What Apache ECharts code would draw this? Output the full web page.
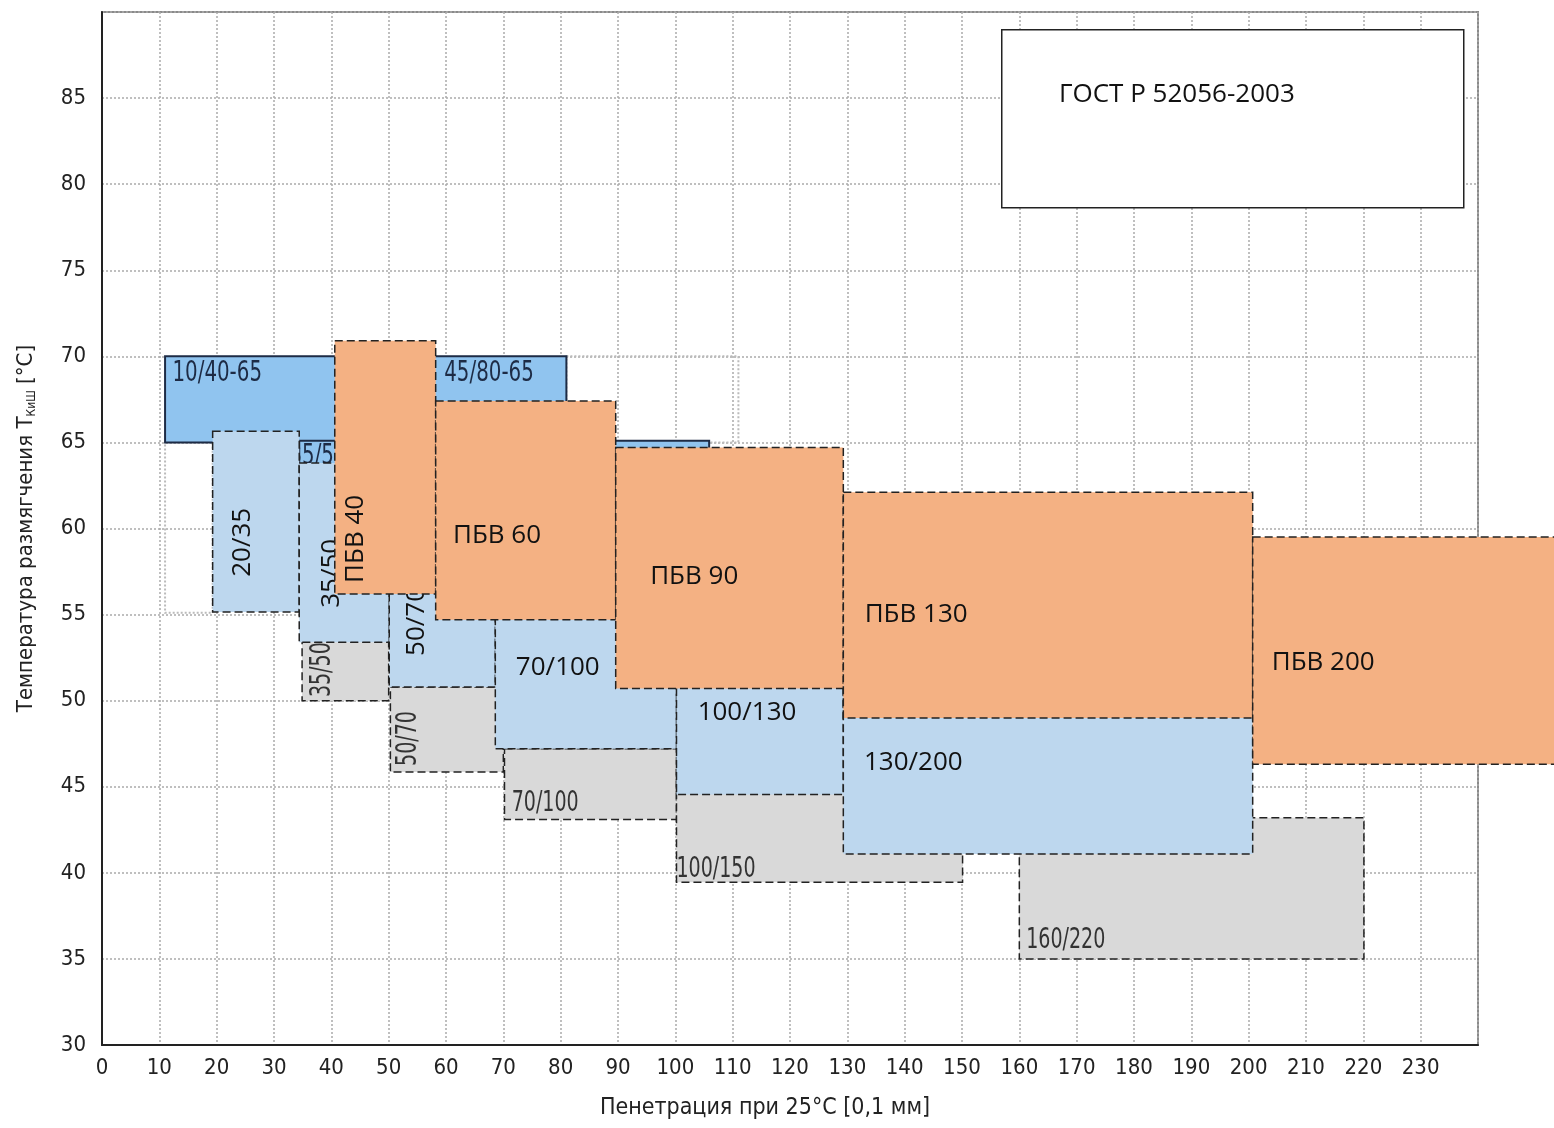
<!DOCTYPE html>
<html>
<head>
<meta charset="utf-8">
<script src="https://cdn.jsdelivr.net/npm/echarts@6/dist/echarts.min.js"></script>
<style>
  html, body { margin: 0; padding: 0; background: #fff; }
  #chart { width: 1554px; height: 1128px; }
</style>
</head>
<body>
<div id="chart"></div>
<script>
// пенетрация [0,1 мм] по x, температура размягчения [°C] по y

// ПБВ (ГОСТ Р 52056-2003)
const pbvNames = ['ПБВ 40', 'ПБВ 60', 'ПБВ 90', 'ПБВ 130', 'ПБВ 200'];
const pbvX = [[40.6, 58.2], [58.2, 89.6], [89.6, 129.3], [129.3, 200.7], [200.7, 262]];
const pbvY = [[56.2, 70.9], [54.7, 67.4], [50.7, 64.7], [49.0, 62.1], [46.3, 59.5]];
const pbvLabelAt = [[44.3, 59.4], [68.9, 59.6], [103.3, 57.2], [142.0, 55.0], [213.0, 52.2]];

// битумы (голубые)
const blueNames = ['20/35', '35/50', '50/70', '70/100', '100/130', '130/200'];
const blueX = [[19.3, 34.4], [34.4, 50.1], [50.1, 68.6], [68.6, 100.2], [100.2, 129.3], [129.3, 200.7]];
const blueY = [[55.15, 65.65], [53.4, 63.8], [50.8, 60.0], [47.2, 58.0], [44.55, 55.0], [41.1, 52.0]];
const blueLabelAt = [[24.6, 59.2], [40.1, 57.4], [54.9, 54.6], [79.5, 51.9], [112.5, 49.3], [141.5, 46.4]];

// битумы (серые)
const grayNames = ['35/50', '50/70', '70/100', '100/150', '160/220'];
const grayX = [[34.9, 50.0], [50.3, 70.0], [70.2, 100.2], [100.2, 150.1], [160.0, 220.1]];
const grayY = [[50.0, 53.4], [45.85, 50.8], [43.1, 47.2], [39.45, 46.0], [35.0, 43.2]];
const grayLabelAt = [[38.5, 51.8], [53.4, 47.8], [77.3, 44.05], [107.1, 40.2], [168.1, 36.1]];

// тёмно-голубые (сплошная рамка)
const darkNames = ['10/40-65', '35/50-65', ''];
const darkX = [[11.0, 81.0], [34.4, 45.0], [85.0, 105.9]];
const darkY = [[65.0, 70.0], [62.0, 65.1], [60.0, 65.1]];
const darkLabelAt = [[20.1, 69.0], [40.5, 64.2], [95, 62]];
const darkExtraName = '45/80-65';
const darkExtraAt = [67.5, 69.0];

// контуры без заливки
const outlineX = [[11.0, 19.3], [81.0, 111.0]];
const outlineY = [[55.1, 65.0], [65.0, 70.0]];

const narrow = "'Liberation Sans Narrow', 'DejaVu Sans Condensed', 'Arial Narrow', sans-serif";
const plain = "'Open Sans', 'Noto Sans', sans-serif";

function toData(xs, ys) {
  return xs.map((x, i) => [x[0], ys[i][0], x[1], ys[i][1]]);
}

function boxSeries(name, xs, ys, names, labelAt, st) {
  return {
    type: 'custom',
    name: name,
    z: st.z,
    clip: false,
    silent: true,
    encode: { x: [0, 2], y: [1, 3] },
    data: toData(xs, ys),
    renderItem: function (params, api) {
      const i = params.dataIndex;
      const p1 = api.coord([api.value(0), api.value(3)]);
      const p2 = api.coord([api.value(2), api.value(1)]);
      const children = [{
        type: 'rect',
        shape: { x: p1[0], y: p1[1], width: p2[0] - p1[0], height: p2[1] - p1[1] },
        style: {
          fill: st.fill,
          stroke: st.stroke,
          lineWidth: st.lineWidth,
          lineDash: st.lineDash
        }
      }];
      const texts = [];
      if (names && names[i]) texts.push([names[i], labelAt[i]]);
      if (st.extra && st.extra[i]) texts.push(st.extra[i]);
      texts.forEach(function (t) {
        const c = api.coord(t[1]);
        const rot = st.vertical && st.vertical.indexOf(t[0]) >= 0;
        children.push({
          type: 'text',
          x: c[0],
          y: c[1],
          rotation: rot ? Math.PI / 2 : 0,
          scaleX: st.squeeze || 1,
          style: {
            text: t[0],
            fontFamily: st.fontFamily,
            fontSize: st.fontSize,
            fill: st.color,
            align: 'center',
            verticalAlign: 'middle'
          }
        });
      });
      return { type: 'group', children: children };
    }
  };
}

const dash = [8, 4];

const option = {
  backgroundColor: '#fff',
  animation: false,
  grid: {
    left: 102, right: 76, top: 12, bottom: 83,
    show: true, borderColor: '#8a8a8a', borderWidth: 2
  },
  xAxis: {
    type: 'value', min: 0, max: 240, interval: 10,
    name: 'Пенетрация при 25°C [0,1 мм]',
    nameLocation: 'middle', nameGap: 52,
    nameTextStyle: { fontFamily: narrow, fontSize: 23, color: '#222', padding: [0, 50, 0, 0] },
    axisLine: { show: true, onZero: false, lineStyle: { color: '#222', width: 2 } },
    axisTick: { show: false },
    axisLabel: { fontFamily: narrow, fontSize: 22, color: '#222', margin: 12, showMaxLabel: false },
    splitLine: { show: true, lineStyle: { color: '#aaa', type: [2, 2], width: 1.5 } }
  },
  yAxis: {
    type: 'value', min: 30, max: 90, interval: 5,
    name: 'Температура размягчения T{sub|КиШ} [°C]',
    nameLocation: 'middle', nameGap: 64,
    nameTextStyle: {
      fontFamily: narrow, fontSize: 22, color: '#222',
      rich: { sub: { fontFamily: narrow, fontSize: 12, color: '#222', padding: [12, 0, 0, 0] } }
    },
    axisLine: { show: true, onZero: false, lineStyle: { color: '#222', width: 2 } },
    axisTick: { show: false },
    axisLabel: { fontFamily: narrow, fontSize: 22, color: '#222', margin: 16, showMaxLabel: false },
    splitLine: { show: true, lineStyle: { color: '#aaa', type: [2, 2], width: 1.5 } }
  },
  graphic: [
    { type: 'rect', z: 100, left: 1001, top: 29, shape: { width: 462, height: 178 },
      style: { fill: '#fff', stroke: '#222', lineWidth: 1.5 } },
    { type: 'text', z: 101, left: 1059, top: 82,
      style: { text: 'ГОСТ Р 52056-2003', fontFamily: plain, fontSize: 26, fill: '#111' } }
  ],
  series: [
    boxSeries('outline', outlineX, outlineY, null, null,
      { z: 2, fill: 'transparent', stroke: '#bbb', lineWidth: 2, lineDash: [2, 2] }),
    boxSeries('dark', darkX, darkY, darkNames, darkLabelAt,
      { z: 3, fill: '#90c4ef', stroke: '#1d2b45', lineWidth: 2, lineDash: null,
        fontFamily: narrow, fontSize: 29, squeeze: 0.76, color: '#1d2b45',
        extra: [[darkExtraName, darkExtraAt]] }),
    boxSeries('gray', grayX, grayY, grayNames, grayLabelAt,
      { z: 4, fill: '#d9d9d9', stroke: '#222', lineWidth: 1.5, lineDash: dash,
        fontFamily: narrow, fontSize: 29, squeeze: 0.73, color: '#333', vertical: ['35/50', '50/70'] }),
    boxSeries('blue', blueX, blueY, blueNames, blueLabelAt,
      { z: 5, fill: '#bdd7ee', stroke: '#222', lineWidth: 1.5, lineDash: dash,
        fontFamily: plain, fontSize: 26, color: '#111', vertical: ['20/35', '35/50', '50/70'] }),
    boxSeries('pbv', pbvX, pbvY, pbvNames, pbvLabelAt,
      { z: 6, fill: '#f4b183', stroke: '#222', lineWidth: 1.5, lineDash: dash,
        fontFamily: plain, fontSize: 26, color: '#111', vertical: ['ПБВ 40'] })
  ]
};

const chartObj = echarts.init(document.getElementById('chart'));
chartObj.setOption(option);
window.addEventListener('resize', function () {
  chartObj.resize();
});
</script>
</body>
</html>
